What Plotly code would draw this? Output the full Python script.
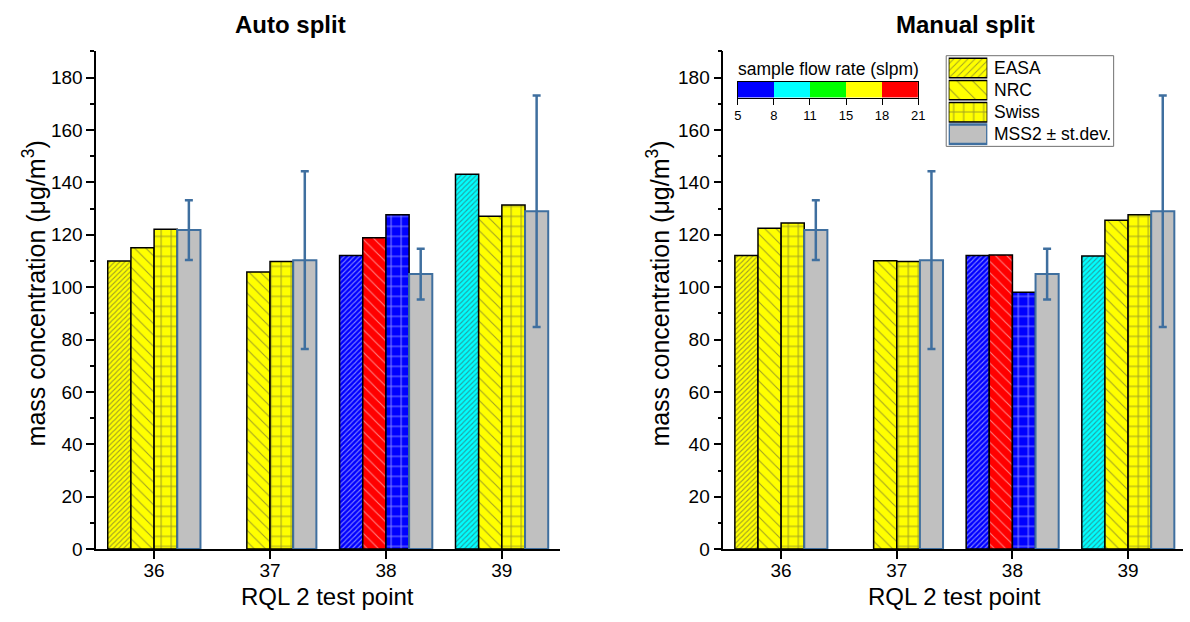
import plotly.graph_objects as go

# ---- data ----------------------------------------------------------------
test_points = [36, 37, 38, 39]

auto_easa = [110.0, None, 112.1, 143.1]
auto_nrc = [115.0, 105.8, 118.9, 127.1]
auto_swiss = [122.1, 109.8, 127.6, 131.4]

manual_easa = [112.1, None, 112.1, 111.9]
manual_nrc = [122.5, 110.1, 112.3, 125.5]
manual_swiss = [124.5, 109.8, 98.1, 127.6]

mss2 = [121.8, 110.3, 105.0, 129.0]
mss2_sd = [11.4, 33.9, 9.7, 44.2]

# flow-rate bin (index into flow_colors) of each bar
auto_easa_bin = [3, 3, 0, 1]
auto_nrc_bin = [3, 3, 4, 3]
auto_swiss_bin = [3, 3, 0, 3]
manual_easa_bin = [3, 3, 0, 1]
manual_nrc_bin = [3, 3, 4, 3]
manual_swiss_bin = [3, 3, 0, 3]

flow_ticks = [5, 8, 11, 15, 18, 21]
flow_colors = ["#0000FF", "#00FFFF", "#00FF00", "#FFFF00", "#FF0000"]

legend_labels = ["EASA", "NRC", "Swiss", "MSS2 \u00b1 st.dev."]

# ---- styling -------------------------------------------------------------
W, H = 1190, 622
FONT = "Arial, Liberation Sans, sans-serif"
GRAY = "#C0C0C0"
STEEL = "#3F6F9F"

pattern_style = {
    "EASA": dict(shape="/", size=3.6, solidity=0.3),
    "NRC": dict(shape="\\", size=8, solidity=0.14),
    "Swiss": dict(shape="+", size=10, solidity=0.2),
}


def px_x(p):
    return p / W


def px_y(p):
    return 1 - p / H


fig = go.Figure()


def add_panel(xa, ya, easa, nrc, swiss, easa_bin, nrc_bin, swiss_bin):
    for name, vals, bins in (("EASA", easa, easa_bin),
                             ("NRC", nrc, nrc_bin),
                             ("Swiss", swiss, swiss_bin)):
        fig.add_trace(go.Bar(
            x=test_points, y=vals, name=name, showlegend=False,
            xaxis=xa, yaxis=ya,
            marker=dict(color=[flow_colors[b] for b in bins],
                        line=dict(color="black", width=1.5),
                        pattern=dict(fgcolor="black", **pattern_style[name])),
        ))
    fig.add_trace(go.Bar(
        x=test_points, y=mss2, name="MSS2", showlegend=False,
        xaxis=xa, yaxis=ya,
        marker=dict(color=GRAY, line=dict(color=STEEL, width=2)),
        error_y=dict(type="data", array=mss2_sd, color=STEEL,
                     thickness=2.5, width=4),
    ))


add_panel("x", "y", auto_easa, auto_nrc, auto_swiss,
          auto_easa_bin, auto_nrc_bin, auto_swiss_bin)
add_panel("x2", "y2", manual_easa, manual_nrc, manual_swiss,
          manual_easa_bin, manual_nrc_bin, manual_swiss_bin)

# flow-rate colour key drawn as a one-row heatmap
n_bins = len(flow_colors)
cscale = []
for i, c in enumerate(flow_colors):
    cscale += [[i / n_bins, c], [(i + 1) / n_bins, c]]
fig.add_trace(go.Heatmap(
    z=[list(range(n_bins))], x=list(range(n_bins)), y=[0],
    xaxis="x3", yaxis="y3", colorscale=cscale,
    zmin=-0.5, zmax=n_bins - 0.5, showscale=False, hoverinfo="skip",
))

# legend swatches drawn as horizontal bars
fig.add_trace(go.Bar(
    y=list(range(len(legend_labels))), x=[1] * len(legend_labels),
    orientation="h", xaxis="x4", yaxis="y4", width=0.88, showlegend=False,
    marker=dict(
        color=["#FFFF00", "#FFFF00", "#FFFF00", GRAY],
        line=dict(color=["black", "black", "black", STEEL],
                  width=[1.5, 1.5, 1.5, 2.5]),
        pattern=dict(shape=["/", "\\", "+", ""],
                     size=[5, 11, 10, 10],
                     solidity=[0.2, 0.1, 0.2, 0.2],
                     fgcolor="black"),
    ),
    hoverinfo="skip",
))

# ---- axes ----------------------------------------------------------------
ydom = [px_y(559), px_y(52.3)]
common_x = dict(
    tickvals=test_points, ticks="outside", ticklen=8, tickwidth=1.5,
    tickcolor="black", showline=True, linecolor="black", linewidth=1.5,
    showgrid=False, zeroline=False, tickfont=dict(size=19, color="black"),
    ticklabelstandoff=-5,
)
common_y = dict(
    range=[0, 190], tickvals=list(range(0, 181, 20)), ticks="outside",
    ticklen=8, tickwidth=1.5, tickcolor="black", showline=True,
    linecolor="black", linewidth=1.5, showgrid=False, zeroline=False,
    tickfont=dict(size=19, color="black"),
    minor=dict(ticks="outside", ticklen=4, dtick=10, tickwidth=1.5,
               tickcolor="black", showgrid=False),
)

fig.update_layout(
    width=W, height=H, autosize=False,
    margin=dict(l=0, r=0, t=0, b=0),
    paper_bgcolor="white", plot_bgcolor="rgba(0,0,0,0)",
    font=dict(family=FONT, color="black"),
    barmode="group", bargap=0.2, bargroupgap=0,
    xaxis=dict(domain=[px_x(93), px_x(561)], range=[35.5, 39.5], anchor="y",
               **common_x),
    yaxis=dict(domain=ydom, anchor="x", **common_y),
    xaxis2=dict(domain=[px_x(726), 1.0], range=[35.5, 39.475], anchor="y2",
                **common_x),
    yaxis2=dict(domain=ydom, anchor="x2", **common_y),
    xaxis3=dict(domain=[px_x(740.7), px_x(922.7)], range=[-0.5, n_bins - 0.5],
                anchor="y3", tickvals=[i - 0.5 for i in range(n_bins + 1)],
                ticktext=[str(t) for t in flow_ticks], ticks="outside",
                ticklen=6, tickwidth=1.2, tickcolor="black",
                tickfont=dict(size=13), showline=True, mirror=True,
                linecolor="black", linewidth=1, showgrid=False, zeroline=False),
    yaxis3=dict(domain=[px_y(99.3), px_y(83.3)], range=[-0.5, 0.5],
                anchor="x3", showticklabels=False, ticks="", showline=True,
                mirror=True, linecolor="black", linewidth=1, showgrid=False,
                zeroline=False),
    xaxis4=dict(domain=[px_x(953.5), px_x(992.5)], range=[0, 1], anchor="y4",
                visible=False),
    yaxis4=dict(domain=[px_y(148), px_y(58)], range=[3.5, -0.5], anchor="x4",
                visible=False),
)

# legend frame
fig.add_shape(type="rect", xref="paper", yref="paper",
              x0=px_x(951), x1=px_x(1120), y0=px_y(149), y1=px_y(56.7),
              line=dict(color="#707070", width=1), fillcolor="rgba(0,0,0,0)",
              layer="below")


def label(text, x, y, size, **kw):
    return dict(text=text, xref="paper", yref="paper", x=px_x(x), y=px_y(y),
                xanchor="center", yanchor="middle", showarrow=False,
                font=dict(size=size), **kw)


annotations = []
for i, lab in enumerate(legend_labels):
    annotations.append(dict(text=lab, xref="paper", yref="y4", x=px_x(997),
                            y=i, xanchor="left", yanchor="middle",
                            showarrow=False, font=dict(size=17.5)))

y_title = "mass concentration (\u03bcg/m<sup>3</sup>)"
annotations += [
    label("<b>Auto split</b>", 289, 25, 24),
    label("<b>Manual split</b>", 970, 25, 24),
    label("RQL 2 test point", 327, 607, 24),
    label("RQL 2 test point", 959, 607, 24),
    label(y_title, 30, 299, 25, textangle=-90),
    label(y_title, 660, 299, 25, textangle=-90),
    label("sample flow rate (slpm)", 831.7, 70, 17.5),
]
fig.update_layout(annotations=annotations)

fig.write_html("out.html")
